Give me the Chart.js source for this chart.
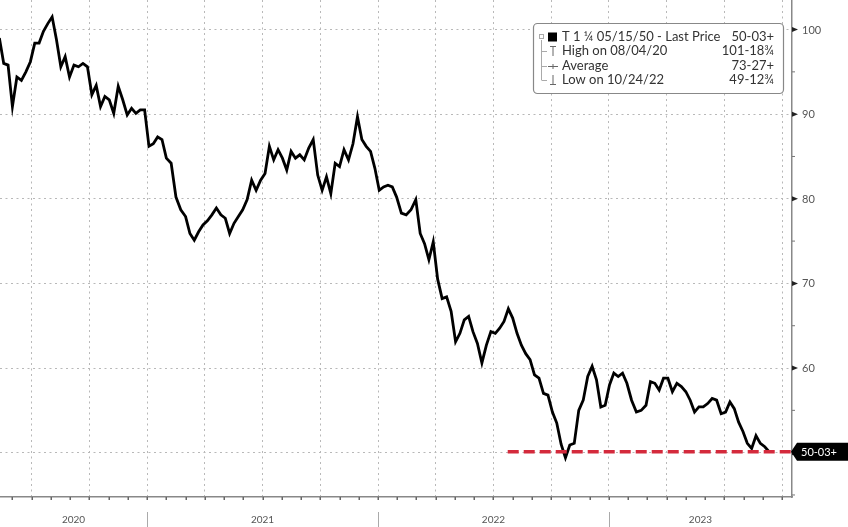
<!DOCTYPE html>
<html>
<head>
<meta charset="utf-8">
<script src="https://cdn.jsdelivr.net/npm/chart.js@4/dist/chart.umd.min.js"></script>
<style>
  html, body { margin: 0; padding: 0; background: #fff; }
  #wrap { width: 848px; height: 527px; position: relative; }
</style>
</head>
<body>
<div id="wrap"><canvas id="chart"></canvas></div>
<script>
// weekly closes, first week starting 2020-05-11
const startDate = "2020-05-11";
const prices = [
    99.0, 96.0, 95.8, 90.9, 94.4, 94.0, 95.0, 96.2, 98.4, 98.4,
    99.8, 100.7, 101.5, 98.8, 95.6, 96.8, 94.4, 95.8, 95.6, 96.0,
    95.6, 92.3, 93.4, 90.9, 92.1, 91.7, 90.1, 93.3, 91.7, 89.9,
    90.7, 90.1, 90.5, 90.5, 86.2, 86.5, 87.3, 87.0, 84.8, 84.2,
    80.2, 78.7, 77.9, 75.9, 75.1, 76.1, 76.9, 77.4, 78.1, 78.9,
    78.1, 77.7, 75.9, 77.1, 77.9, 78.7, 79.9, 82.2, 81.0, 82.2,
    83.0, 86.2, 84.6, 85.8, 84.8, 83.4, 85.6, 84.8, 85.2, 84.6,
    86.0, 87.0, 82.8, 81.0, 82.6, 80.6, 84.2, 83.8, 85.8, 84.6,
    86.5, 89.7, 87.0, 86.2, 85.6, 83.6, 81.0, 81.4, 81.6, 81.4,
    80.2, 78.3, 78.1, 78.7, 79.9, 75.9, 74.7, 72.8, 74.9, 70.5,
    68.2, 68.4, 66.7, 63.1, 64.1, 65.7, 66.1, 64.3, 62.9, 60.6,
    62.7, 64.3, 64.1, 64.7, 65.5, 67.0, 65.9, 64.1, 62.7, 61.7,
    61.0, 59.2, 58.8, 57.0, 56.8, 54.8, 53.5, 51.0, 49.4, 50.9,
    51.1, 55.0, 56.2, 59.0, 60.2, 58.6, 55.4, 55.6, 58.0, 59.4,
    59.0, 59.4, 58.2, 56.2, 54.8, 55.0, 55.6, 58.4, 58.2, 57.4,
    58.8, 58.8, 57.2, 58.2, 57.8, 57.2, 56.2, 54.8, 55.4, 55.4,
    55.8, 56.4, 56.2, 54.6, 54.8, 56.0, 55.2, 53.6, 52.5, 51.1,
    50.5, 52.0, 51.1, 50.7, 50.1
];
const lastPrice = 50.11;
const lastPriceFrom = "2022-07-24";
const yTicks = [50, 60, 70, 80, 90, 100];
const years = [2020, 2021, 2022, 2023];
const legendRows = [
    ["T 1 \u00BC 05/15/50 - Last Price", "50-03+"],
    ["High on 08/04/20", "101-18\u00BE"],
    ["Average", "73-27+"],
    ["Low on 10/24/22", "49-12\u00BE"]
];
const lastLabel = "50-03+";

// months since 2020-01-01 (fractional)
function toMonths(d) {
    const dt = typeof d === "string" ? new Date(d + "T00:00:00Z") : d;
    const y = dt.getUTCFullYear(), m = dt.getUTCMonth();
    const dim = new Date(Date.UTC(y, m + 1, 0)).getUTCDate();
    return (y - 2020) * 12 + m + (dt.getUTCDate() - 1) / dim;
}

const start = new Date(startDate + "T00:00:00Z");
const seriesData = [];
for (let i = 0; i < prices.length; i++) {
    const d = new Date(start.getTime() + i * 7 * 86400000);
    seriesData.push({ x: toMonths(d), y: prices[i] });
}

const xMin = toMonths("2020-05-12");
const xMax = toMonths("2023-10-17");
const yMin = 44.76;
const yMax = 103.49;

const extras = {
    id: "extras",
    afterDraw(chart) {
        const ctx = chart.ctx;
        const xs = chart.scales.x;
        const ys = chart.scales.y;
        const area = chart.chartArea;
        ctx.save();

        // month ticks on bottom axis
        ctx.fillStyle = "#666";
        for (let m = Math.ceil(xMin); m <= xMax; m++) {
            const px = xs.getPixelForValue(m);
            ctx.fillRect(Math.round(px) - 0.5, area.bottom, 1.5, 3);
        }

        // year labels and separators
        ctx.font = "10px Lato";
        ctx.fillStyle = "#555";
        ctx.textAlign = "center";
        ctx.textBaseline = "middle";
        years.forEach((yr) => {
            const a = Math.max(xs.getPixelForValue((yr - 2020) * 12), area.left);
            const b = Math.min(xs.getPixelForValue((yr - 2019) * 12), area.right);
            ctx.fillText(String(yr), (a + b) / 2, 520);
            if (yr > 2020) {
                ctx.strokeStyle = "#aaa";
                ctx.lineWidth = 1;
                ctx.beginPath();
                ctx.moveTo(Math.round(a) + 0.5, 512);
                ctx.lineTo(Math.round(a) + 0.5, 527);
                ctx.stroke();
            }
        });

        // y ticks (major arrows at tens, minor at fives) and labels
        ctx.font = "11px Lato";
        ctx.textAlign = "left";
        for (let v = 45; v <= 100; v += 5) {
            const py = ys.getPixelForValue(v);
            if (v % 10 === 0) {
                ctx.fillStyle = "#222";
                ctx.beginPath();
                ctx.moveTo(area.right, py - 2.5);
                ctx.lineTo(area.right + 6, py);
                ctx.lineTo(area.right, py + 2.5);
                ctx.closePath();
                ctx.fill();
            } else {
                ctx.fillStyle = "#777";
                ctx.fillRect(area.right, py - 0.5, 3, 1);
            }
        }
        ctx.fillStyle = "#555";
        yTicks.forEach((v) => {
            if (v === 50) return;
            ctx.fillText(String(v), area.right + 10, ys.getPixelForValue(v) + 0.5);
        });

        // last price tag
        const ty = ys.getPixelForValue(lastPrice);
        ctx.fillStyle = "#000";
        ctx.beginPath();
        ctx.moveTo(area.right - 1, ty);
        ctx.lineTo(area.right + 5, ty - 9);
        ctx.lineTo(848, ty - 9);
        ctx.lineTo(848, ty + 9);
        ctx.lineTo(area.right + 5, ty + 9);
        ctx.closePath();
        ctx.fill();
        ctx.fillStyle = "#fff";
        ctx.font = "11px Lato";
        ctx.textAlign = "left";
        ctx.fillText(lastLabel, area.right + 9, ty + 0.5);

        // legend box
        const bx = 533, by = 23, bw = 250, bh = 70;
        ctx.fillStyle = "#fff";
        ctx.strokeStyle = "#888";
        ctx.lineWidth = 1.2;
        ctx.beginPath();
        ctx.roundRect(bx + 0.5, by + 0.5, bw, bh, 4);
        ctx.fill();
        ctx.stroke();

        const rowY = [37, 51, 66, 80];
        // tree lines
        ctx.strokeStyle = "#aaa";
        ctx.lineWidth = 1;
        ctx.beginPath();
        ctx.moveTo(541.5, rowY[0] + 3);
        ctx.lineTo(541.5, rowY[3]);
        for (let r = 1; r < 4; r++) {
            ctx.moveTo(541.5, rowY[r] + 0.5);
            ctx.lineTo(547, rowY[r] + 0.5);
        }
        ctx.stroke();
        ctx.strokeRect(539.5, rowY[0] - 2.5, 4, 4);
        ctx.fillStyle = "#000";
        ctx.fillRect(548, rowY[0] - 4.5, 9, 9);

        // row icons
        ctx.strokeStyle = "#666";
        ctx.beginPath();
        ctx.moveTo(550, rowY[1] - 4.5); ctx.lineTo(556, rowY[1] - 4.5);
        ctx.moveTo(553, rowY[1] - 4.5); ctx.lineTo(553, rowY[1] + 5);
        ctx.moveTo(548, rowY[2] + 0.5); ctx.lineTo(558, rowY[2] + 0.5);
        ctx.moveTo(553, rowY[2] - 2); ctx.lineTo(553, rowY[2] + 3);
        ctx.moveTo(553, rowY[3] - 5); ctx.lineTo(553, rowY[3] + 4.5);
        ctx.moveTo(550, rowY[3] + 4.5); ctx.lineTo(556, rowY[3] + 4.5);
        ctx.stroke();

        ctx.font = "13px Lato";
        ctx.fillStyle = "#333";
        ctx.textBaseline = "middle";
        legendRows.forEach((row, r) => {
            ctx.textAlign = "left";
            ctx.fillText(row[0], 562, rowY[r]);
            ctx.textAlign = "right";
            ctx.fillText(row[1], 774, rowY[r]);
        });

        ctx.restore();
    }
};

new Chart(document.getElementById("chart"), {
    type: "line",
    data: {
        datasets: [
            {
                label: "Last Price",
                data: seriesData,
                borderColor: "#000",
                borderWidth: 2.8,
                pointRadius: 0,
                tension: 0,
                order: 1,
            },
            {
                label: "Last line",
                data: [
                    { x: toMonths(lastPriceFrom), y: lastPrice },
                    { x: xMax, y: lastPrice },
                ],
                borderColor: "#d42a3c",
                borderWidth: 3.5,
                borderDash: [11, 5],
                pointRadius: 0,
                order: 0,
            },
        ],
    },
    options: {
        responsive: true,
        maintainAspectRatio: false,
        animation: false,
        layout: { padding: 0 },
        plugins: {
            legend: { display: false },
            tooltip: { enabled: false },
        },
        scales: {
            x: {
                type: "linear",
                min: xMin,
                max: xMax,
                afterBuildTicks: (s) => {
                    const t = [];
                    for (let m = 6; m <= xMax; m += 3) t.push({ value: m });
                    s.ticks = t;
                },
                afterFit: (s) => { s.height = 30; },
                ticks: { display: false },
                grid: { color: "#b8b8b8", lineWidth: 1, drawTicks: false },
                border: { display: true, color: "#888", width: 1.5, dash: [2, 3.5] },
            },
            y: {
                position: "right",
                min: yMin,
                max: yMax,
                afterBuildTicks: (s) => {
                    s.ticks = yTicks.map((v) => ({ value: v }));
                },
                afterFit: (s) => { s.width = 56; },
                ticks: { display: false },
                grid: { color: "#b8b8b8", lineWidth: 1, drawTicks: false },
                border: { display: true, color: "#888", width: 1.5, dash: [2, 3.5] },
            },
        },
    },
    plugins: [extras],
});
</script>
</body>
</html>
